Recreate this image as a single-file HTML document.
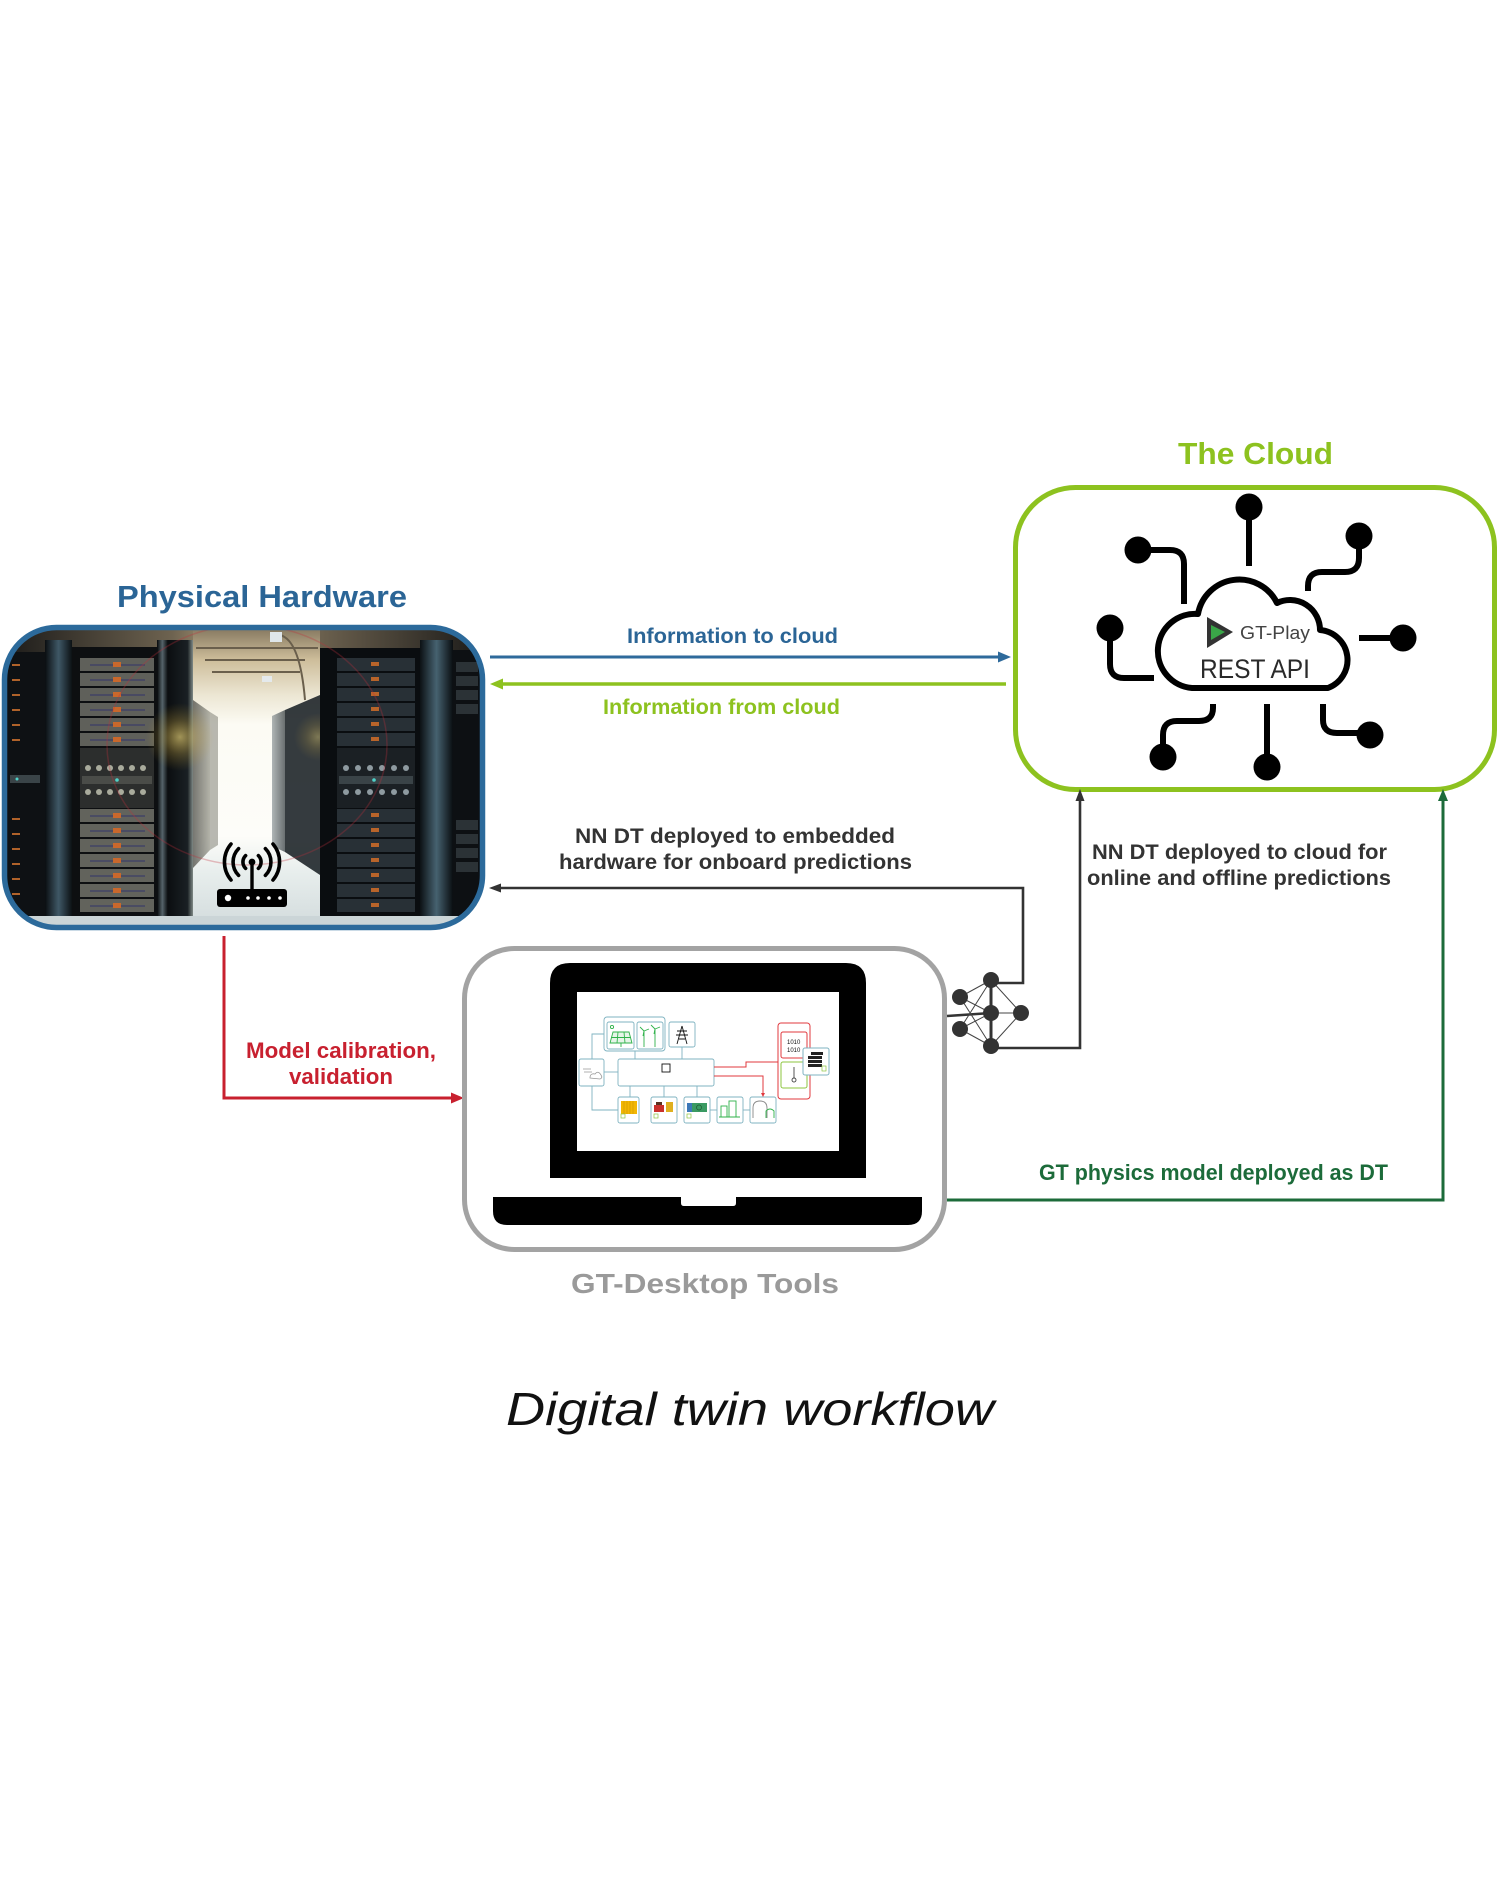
<!DOCTYPE html>
<html>
<head>
<meta charset="utf-8">
<style>
html,body{margin:0;padding:0;background:#ffffff;}
svg{display:block;}
text{font-family:"Liberation Sans",Arial,sans-serif;}
</style>
</head>
<body>
<svg width="1500" height="1900" viewBox="0 0 1500 1900" xmlns="http://www.w3.org/2000/svg">
<defs>
  <clipPath id="pc"><rect x="7" y="630" width="473" height="295" rx="48" ry="48"/></clipPath>
  <linearGradient id="ceil" x1="0" y1="0" x2="1" y2="0">
    <stop offset="0" stop-color="#1d1c1a"/>
    <stop offset="0.35" stop-color="#6e6350"/>
    <stop offset="0.5" stop-color="#c3ad85"/>
    <stop offset="0.65" stop-color="#6e6350"/>
    <stop offset="1" stop-color="#1d1c1a"/>
  </linearGradient>
  <linearGradient id="steelL" x1="0" y1="0" x2="1" y2="0">
    <stop offset="0" stop-color="#0a0e11"/>
    <stop offset="0.5" stop-color="#3f5866"/>
    <stop offset="1" stop-color="#0c1114"/>
  </linearGradient>
  <linearGradient id="steelR" x1="0" y1="0" x2="1" y2="0">
    <stop offset="0" stop-color="#0c1114"/>
    <stop offset="0.5" stop-color="#466270"/>
    <stop offset="1" stop-color="#0a0e11"/>
  </linearGradient>
  <linearGradient id="door" x1="0" y1="0" x2="1" y2="0">
    <stop offset="0" stop-color="#06080a"/>
    <stop offset="0.15" stop-color="#55646a"/>
    <stop offset="0.3" stop-color="#0b0e10"/>
    <stop offset="0.85" stop-color="#1a2024"/>
    <stop offset="1" stop-color="#7f8a86"/>
  </linearGradient>
  <linearGradient id="corr" x1="0" y1="0" x2="0" y2="1">
    <stop offset="0" stop-color="#8a7c63"/>
    <stop offset="0.1" stop-color="#cdbd9a"/>
    <stop offset="0.22" stop-color="#ece6d3"/>
    <stop offset="0.32" stop-color="#fcfbf4"/>
    <stop offset="0.7" stop-color="#fdfdf9"/>
    <stop offset="0.82" stop-color="#e8eeed"/>
    <stop offset="1" stop-color="#d3dcdd"/>
  </linearGradient>
  <linearGradient id="sideL" x1="0" y1="0" x2="1" y2="0">
    <stop offset="0" stop-color="#4a4a44"/>
    <stop offset="1" stop-color="#9a9a8e"/>
  </linearGradient>
  <linearGradient id="sideR" x1="0" y1="0" x2="1" y2="0">
    <stop offset="0" stop-color="#8e979a"/>
    <stop offset="1" stop-color="#2c3438"/>
  </linearGradient>
  <radialGradient id="glow" cx="0.5" cy="0.5" r="0.5">
    <stop offset="0" stop-color="#ffe680" stop-opacity="0.6"/>
    <stop offset="0.5" stop-color="#e8c04a" stop-opacity="0.25"/>
    <stop offset="1" stop-color="#c8a030" stop-opacity="0"/>
  </radialGradient>
</defs>

<!-- ============ PHYSICAL HARDWARE ============ -->
<text x="117" y="607" font-size="31" font-weight="bold" fill="#2B6596" textLength="290" lengthAdjust="spacingAndGlyphs">Physical Hardware</text>

<g clip-path="url(#pc)">
  <rect x="0" y="620" width="490" height="310" fill="#14181c"/>
  <rect x="7" y="630" width="473" height="24" fill="url(#ceil)"/>
  <!-- left partial rack -->
  <rect x="7" y="652" width="38" height="268" fill="#0e1114"/>
  <g fill="#b0622a">
    <rect x="12" y="664" width="8" height="2"/><rect x="12" y="679" width="8" height="2"/>
    <rect x="12" y="694" width="8" height="2"/><rect x="12" y="709" width="8" height="2"/>
    <rect x="12" y="724" width="8" height="2"/><rect x="12" y="739" width="8" height="2"/>
    <rect x="12" y="818" width="8" height="2"/><rect x="12" y="833" width="8" height="2"/>
    <rect x="12" y="848" width="8" height="2"/><rect x="12" y="863" width="8" height="2"/>
    <rect x="12" y="878" width="8" height="2"/><rect x="12" y="893" width="8" height="2"/>
  </g>
  <rect x="10" y="775" width="30" height="8" fill="#3a4448"/>
  <circle cx="17" cy="779" r="1.5" fill="#4fd1c8"/>
  <!-- left column -->
  <rect x="45" y="640" width="27" height="285" fill="url(#steelL)"/>
  <!-- left rack -->
  <rect x="72" y="647" width="85" height="273" fill="#0d0f11"/>
  <g>
    <rect x="80" y="658" width="74" height="13" fill="#5f605a"/>
    <rect x="80" y="673" width="74" height="13" fill="#5f605a"/>
    <rect x="80" y="688" width="74" height="13" fill="#5f605a"/>
    <rect x="80" y="703" width="74" height="13" fill="#5f605a"/>
    <rect x="80" y="718" width="74" height="13" fill="#5f605a"/>
    <rect x="80" y="733" width="74" height="13" fill="#5f605a"/>
    <rect x="80" y="748" width="74" height="60" fill="#2c2e2d"/>
    <rect x="80" y="809" width="74" height="13" fill="#62635c"/>
    <rect x="80" y="824" width="74" height="13" fill="#62635c"/>
    <rect x="80" y="839" width="74" height="13" fill="#62635c"/>
    <rect x="80" y="854" width="74" height="13" fill="#62635c"/>
    <rect x="80" y="869" width="74" height="13" fill="#62635c"/>
    <rect x="80" y="884" width="74" height="13" fill="#62635c"/>
    <rect x="80" y="899" width="74" height="13" fill="#62635c"/>
  </g>
  <g stroke="#33346a" stroke-width="1">
    <line x1="90" y1="665" x2="145" y2="665"/><line x1="90" y1="680" x2="145" y2="680"/>
    <line x1="90" y1="695" x2="145" y2="695"/><line x1="90" y1="710" x2="145" y2="710"/>
    <line x1="90" y1="725" x2="145" y2="725"/><line x1="90" y1="740" x2="145" y2="740"/>
    <line x1="90" y1="816" x2="145" y2="816"/><line x1="90" y1="831" x2="145" y2="831"/>
    <line x1="90" y1="846" x2="145" y2="846"/><line x1="90" y1="861" x2="145" y2="861"/>
    <line x1="90" y1="876" x2="145" y2="876"/><line x1="90" y1="891" x2="145" y2="891"/>
    <line x1="90" y1="906" x2="145" y2="906"/>
  </g>
  <g fill="#c8682c">
    <rect x="113" y="662" width="8" height="5"/>
    <rect x="113" y="677" width="8" height="5"/><rect x="113" y="692" width="8" height="5"/>
    <rect x="113" y="707" width="8" height="5"/><rect x="113" y="722" width="8" height="5"/>
    <rect x="113" y="737" width="8" height="5"/><rect x="113" y="813" width="8" height="5"/>
    <rect x="113" y="828" width="8" height="5"/><rect x="113" y="843" width="8" height="5"/>
    <rect x="113" y="858" width="8" height="5"/><rect x="113" y="873" width="8" height="5"/>
    <rect x="113" y="888" width="8" height="5"/><rect x="113" y="903" width="8" height="5"/>
  </g>
  <g fill="#a9ab9c">
    <circle cx="88" cy="768" r="3"/><circle cx="99" cy="768" r="3"/><circle cx="110" cy="768" r="3"/>
    <circle cx="121" cy="768" r="3"/><circle cx="132" cy="768" r="3"/><circle cx="143" cy="768" r="3"/>
    <circle cx="88" cy="792" r="3"/><circle cx="99" cy="792" r="3"/><circle cx="110" cy="792" r="3"/>
    <circle cx="121" cy="792" r="3"/><circle cx="132" cy="792" r="3"/><circle cx="143" cy="792" r="3"/>
  </g>
  <rect x="82" y="776" width="70" height="8" fill="#4a4c48"/>
  <circle cx="117" cy="780" r="1.8" fill="#4fd1c8"/>
  <!-- door -->
  <rect x="157" y="640" width="36" height="282" fill="url(#door)"/>
  <!-- corridor -->
  <rect x="193" y="630" width="127" height="295" fill="url(#corr)"/>
  <polygon points="193,700 210,712 210,850 193,868" fill="url(#sideL)" opacity="0.75"/>
  <polygon points="320,695 285,710 285,852 320,875" fill="#1f262a" opacity="0.9"/>
  <polygon points="285,710 272,716 272,846 285,852" fill="url(#sideR)" opacity="0.7"/>
  <polygon points="210,712 218,717 218,845 210,850" fill="#8a8a80" opacity="0.6"/>
  <g stroke="#6a5f4c" stroke-width="2" fill="none">
    <line x1="196" y1="648" x2="318" y2="648"/>
    <line x1="205" y1="660" x2="305" y2="660"/>
    <line x1="212" y1="672" x2="300" y2="672"/>
    <path d="M280,635 Q300,640 305,700"/>
  </g>
  <rect x="270" y="632" width="12" height="10" fill="#dfe6ea"/>
  <rect x="262" y="676" width="10" height="6" fill="#e4e9ec"/>
  <circle cx="180" cy="737" r="34" fill="url(#glow)"/>
  <circle cx="318" cy="737" r="24" fill="url(#glow)" opacity="0.6"/>
  <!-- right rack -->
  <rect x="320" y="648" width="100" height="272" fill="#0a0d10"/>
  <g fill="#283036">
    <rect x="337" y="658" width="78" height="13"/><rect x="337" y="673" width="78" height="13"/>
    <rect x="337" y="688" width="78" height="13"/><rect x="337" y="703" width="78" height="13"/>
    <rect x="337" y="718" width="78" height="13"/><rect x="337" y="733" width="78" height="13"/>
    <rect x="337" y="809" width="78" height="13"/><rect x="337" y="824" width="78" height="13"/>
    <rect x="337" y="839" width="78" height="13"/><rect x="337" y="854" width="78" height="13"/>
    <rect x="337" y="869" width="78" height="13"/><rect x="337" y="884" width="78" height="13"/>
    <rect x="337" y="899" width="78" height="13"/>
  </g>
  <rect x="337" y="748" width="78" height="60" fill="#1b2024"/>
  <g fill="#8e9aa0">
    <circle cx="346" cy="768" r="3"/><circle cx="358" cy="768" r="3"/><circle cx="370" cy="768" r="3"/>
    <circle cx="382" cy="768" r="3"/><circle cx="394" cy="768" r="3"/><circle cx="406" cy="768" r="3"/>
    <circle cx="346" cy="792" r="3"/><circle cx="358" cy="792" r="3"/><circle cx="370" cy="792" r="3"/>
    <circle cx="382" cy="792" r="3"/><circle cx="394" cy="792" r="3"/><circle cx="406" cy="792" r="3"/>
  </g>
  <rect x="339" y="776" width="74" height="8" fill="#3a4347"/>
  <circle cx="374" cy="780" r="1.8" fill="#4fd1c8"/>
  <g fill="#b8642a">
    <rect x="371" y="662" width="8" height="4"/><rect x="371" y="677" width="8" height="4"/>
    <rect x="371" y="692" width="8" height="4"/><rect x="371" y="707" width="8" height="4"/>
    <rect x="371" y="722" width="8" height="4"/><rect x="371" y="737" width="8" height="4"/>
    <rect x="371" y="813" width="8" height="4"/><rect x="371" y="828" width="8" height="4"/>
    <rect x="371" y="843" width="8" height="4"/><rect x="371" y="858" width="8" height="4"/>
    <rect x="371" y="873" width="8" height="4"/><rect x="371" y="888" width="8" height="4"/>
    <rect x="371" y="903" width="8" height="4"/>
  </g>
  <!-- right column & partial -->
  <rect x="420" y="640" width="33" height="285" fill="url(#steelR)"/>
  <rect x="453" y="650" width="27" height="270" fill="#0d1013"/>
  <g fill="#2b3236">
    <rect x="456" y="662" width="22" height="10"/><rect x="456" y="676" width="22" height="10"/>
    <rect x="456" y="690" width="22" height="10"/><rect x="456" y="704" width="22" height="10"/>
    <rect x="456" y="820" width="22" height="10"/><rect x="456" y="834" width="22" height="10"/>
    <rect x="456" y="848" width="22" height="10"/><rect x="456" y="862" width="22" height="10"/>
  </g>
  <rect x="7" y="916" width="473" height="10" fill="#cbd5d7"/>
  <ellipse cx="247" cy="745" rx="140" ry="120" fill="none" stroke="#c0303a" stroke-opacity="0.3" stroke-width="1.5"/>
  <!-- router icon -->
  <g fill="none" stroke="#000" stroke-width="3.6" stroke-linecap="round">
    <path d="M245.6,855.6 A9,9 0 0 0 245.6,868.4"/>
    <path d="M258.4,855.6 A9,9 0 0 1 258.4,868.4"/>
    <path d="M238.6,848.6 A19,19 0 0 0 238.6,875.4"/>
    <path d="M265.4,848.6 A19,19 0 0 1 265.4,875.4"/>
    <path d="M231,844 A28,28 0 0 0 231,880"/>
    <path d="M273,844 A28,28 0 0 1 273,880"/>
  </g>
  <line x1="252" y1="862" x2="252" y2="890" stroke="#000" stroke-width="3.4"/>
  <circle cx="252" cy="862" r="3.4" fill="#000"/>
  <rect x="217" y="889" width="70" height="18" rx="3" fill="#000"/>
  <circle cx="228" cy="898" r="3.2" fill="#fff"/>
  <circle cx="248" cy="898" r="1.8" fill="#fff"/>
  <circle cx="258" cy="898" r="1.8" fill="#fff"/>
  <circle cx="269" cy="898" r="1.8" fill="#fff"/>
  <circle cx="280" cy="898" r="1.8" fill="#fff"/>
</g>
<rect x="4.5" y="627.5" width="478" height="300" rx="52" ry="52" fill="none" stroke="#2C6A9B" stroke-width="5.5"/>

<!-- ============ THE CLOUD ============ -->
<text x="1178" y="464" font-size="31" font-weight="bold" fill="#8DC21F" textLength="155" lengthAdjust="spacingAndGlyphs">The Cloud</text>
<rect x="1015.5" y="487.5" width="479" height="302" rx="60" ry="60" fill="#fff" stroke="#8DC21F" stroke-width="5"/>

<g fill="none" stroke="#000" stroke-width="6">
  <line x1="1249" y1="507" x2="1249" y2="566"/>
  <path d="M1138,550 L1170,550 Q1184,550 1184,564 L1184,604"/>
  <path d="M1359,536 L1359,558 Q1359,572 1345,572 L1322,572 Q1308,572 1308,586 L1308,591"/>
  <path d="M1110,628 L1110,664 Q1110,678 1124,678 L1154,678"/>
  <line x1="1359" y1="638" x2="1403" y2="638"/>
  <path d="M1213,704 L1213,708 Q1213,721 1199,721 L1177,721 Q1163,721 1163,735 L1163,757"/>
  <line x1="1267" y1="704" x2="1267" y2="767"/>
  <path d="M1323,704 L1323,720 Q1323,733 1337,733 L1370,733"/>
</g>
<g fill="#000">
  <circle cx="1249" cy="507" r="13.5"/>
  <circle cx="1138" cy="550" r="13.5"/>
  <circle cx="1359" cy="536" r="13.5"/>
  <circle cx="1110" cy="628" r="13.5"/>
  <circle cx="1403" cy="638" r="13.5"/>
  <circle cx="1163" cy="757" r="13.5"/>
  <circle cx="1267" cy="767" r="13.5"/>
  <circle cx="1370" cy="735" r="13.5"/>
</g>
<path d="M1192,688 A37,37 0 0 1 1198,614 A42,42 0 0 1 1277,603 A30,30 0 0 1 1320,630 A30,30 0 0 1 1328,688 Z" fill="#fff" stroke="#000" stroke-width="6" stroke-linejoin="round"/>
<polygon points="1207,617 1233,632 1207,648" fill="#333"/>
<polygon points="1211,625 1225,632 1211,640" fill="#3aa648"/>
<text x="1240" y="639" font-size="18" fill="#444" textLength="70" lengthAdjust="spacingAndGlyphs">GT-Play</text>
<text x="1200" y="678" font-size="27" fill="#2a2a2a" textLength="110" lengthAdjust="spacingAndGlyphs">REST API</text>

<!-- ============ ARROWS: hardware <-> cloud ============ -->
<text x="627" y="643" font-size="21" font-weight="bold" fill="#2B6596" textLength="211" lengthAdjust="spacingAndGlyphs">Information to cloud</text>
<line x1="490" y1="657" x2="1000" y2="657" stroke="#2E6A9B" stroke-width="3"/>
<polygon points="1011,657 998,651.5 998,662.5" fill="#2E6A9B"/>

<line x1="1006" y1="684" x2="500" y2="684" stroke="#8DC21F" stroke-width="3.5"/>
<polygon points="490,684 503,678.5 503,689.5" fill="#8DC21F"/>
<text x="603" y="714" font-size="21" font-weight="bold" fill="#8DC21F" textLength="237" lengthAdjust="spacingAndGlyphs">Information from cloud</text>

<!-- NN DT embedded -->
<text x="575" y="843" font-size="21" font-weight="bold" fill="#333" textLength="320" lengthAdjust="spacingAndGlyphs">NN DT deployed to embedded</text>
<text x="559" y="869" font-size="21" font-weight="bold" fill="#333" textLength="353" lengthAdjust="spacingAndGlyphs">hardware for onboard predictions</text>
<polyline points="991,983 1023,983 1023,888 498,888" fill="none" stroke="#333" stroke-width="2.6"/>
<polygon points="489,888 501,883.5 501,892.5" fill="#333"/>

<!-- NN DT cloud -->
<text x="1092" y="859" font-size="21" font-weight="bold" fill="#333" textLength="295" lengthAdjust="spacingAndGlyphs">NN DT deployed to cloud for</text>
<text x="1087" y="885" font-size="21" font-weight="bold" fill="#333" textLength="304" lengthAdjust="spacingAndGlyphs">online and offline predictions</text>
<polyline points="991,1048 1080,1048 1080,798" fill="none" stroke="#333" stroke-width="2.6"/>
<polygon points="1080,789 1075.5,801 1084.5,801" fill="#333"/>

<!-- GT physics model -->
<polyline points="947,1200 1443,1200 1443,798" fill="none" stroke="#1C6B3A" stroke-width="3"/>
<polygon points="1443,789 1438,801 1448,801" fill="#1C6B3A"/>
<text x="1039" y="1180" font-size="22" font-weight="bold" fill="#1C6B3A" textLength="349" lengthAdjust="spacingAndGlyphs">GT physics model deployed as DT</text>

<!-- Model calibration -->
<polyline points="224,936 224,1098 453,1098" fill="none" stroke="#C8202F" stroke-width="3"/>
<polygon points="464,1098 451,1092.5 451,1103.5" fill="#C8202F"/>
<text x="246" y="1058" font-size="22" font-weight="bold" fill="#C8202F" textLength="190" lengthAdjust="spacingAndGlyphs">Model calibration,</text>
<text x="289" y="1084" font-size="22" font-weight="bold" fill="#C8202F" textLength="104" lengthAdjust="spacingAndGlyphs">validation</text>

<!-- ============ LAPTOP ============ -->
<rect x="464.5" y="948.5" width="480" height="301" rx="50" ry="50" fill="#fff" stroke="#A3A3A3" stroke-width="5"/>
<path d="M550,1178 L550,983 Q550,963 570,963 L846,963 Q866,963 866,983 L866,1178 Z" fill="#000"/>
<rect x="577" y="992" width="262" height="159" fill="#fff"/>
<path d="M493,1197 L922,1197 L922,1211 Q922,1225 908,1225 L507,1225 Q493,1225 493,1211 Z" fill="#000"/>
<path d="M681,1197 L736,1197 L736,1203 Q736,1206 733,1206 L684,1206 Q681,1206 681,1203 Z" fill="#fff"/>

<!-- screen diagram -->
<g fill="none" stroke="#7fb3c1" stroke-width="0.9">
  <rect x="604" y="1017" width="61" height="34" rx="3"/>
  <rect x="607" y="1022" width="27" height="27" rx="2"/>
  <rect x="637" y="1022" width="26" height="27" rx="2"/>
  <rect x="669" y="1022" width="26" height="25" rx="2"/>
  <rect x="579" y="1059" width="25" height="27" rx="2"/>
  <rect x="618" y="1059" width="96" height="27" rx="2"/>
  <rect x="618" y="1097" width="21" height="26" rx="2"/>
  <rect x="651" y="1097" width="26" height="26" rx="2"/>
  <rect x="684" y="1097" width="26" height="26" rx="2"/>
  <rect x="717" y="1097" width="26" height="26" rx="2"/>
  <rect x="750" y="1097" width="26" height="26" rx="2"/>
  <polyline points="604,1034 592,1034 592,1059"/>
  <line x1="604" y1="1072" x2="618" y2="1072"/>
  <polyline points="592,1086 592,1110 618,1110"/>
  <line x1="635" y1="1051" x2="635" y2="1059"/>
  <line x1="682" y1="1047" x2="682" y2="1059"/>
  <line x1="630" y1="1086" x2="630" y2="1097"/>
  <line x1="664" y1="1086" x2="664" y2="1097"/>
  <line x1="697" y1="1086" x2="697" y2="1097"/>
  <line x1="710" y1="1110" x2="717" y2="1110"/>
  <line x1="743" y1="1110" x2="750" y2="1110"/>
</g>
<g fill="none" stroke="#e0383e" stroke-width="1">
  <rect x="778" y="1023" width="32" height="76" rx="3"/>
  <rect x="781" y="1032" width="26" height="26" rx="2"/>
  <polyline points="714,1067 746,1067 746,1062 778,1062"/>
  <polyline points="714,1076 763,1076 763,1095"/>
</g>
<polygon points="763,1097 761,1093 765,1093" fill="#e0383e"/>
<rect x="781" y="1062" width="26" height="26" rx="2" fill="none" stroke="#8DC63F" stroke-width="1"/>
<rect x="803" y="1048" width="26" height="27" rx="2" fill="#fff" stroke="#7fb3c1" stroke-width="1"/>
<!-- icons -->
<g fill="none" stroke="#2fb24a" stroke-width="0.9">
  <polygon points="613,1032 629,1032 632,1043 610,1043" fill="#e6f5e8"/>
  <line x1="611" y1="1037.5" x2="631" y2="1037.5"/>
  <line x1="618" y1="1032" x2="617" y2="1043"/><line x1="624" y1="1032" x2="625" y2="1043"/>
  <line x1="621" y1="1043" x2="621" y2="1047"/>
  <circle cx="612" cy="1027" r="1.6"/>
  <line x1="644" y1="1047" x2="644" y2="1031"/><line x1="644" y1="1031" x2="640" y2="1027"/><line x1="644" y1="1031" x2="649" y2="1029"/><line x1="644" y1="1031" x2="643" y2="1036"/>
  <line x1="655" y1="1047" x2="655" y2="1029"/><line x1="655" y1="1029" x2="651" y2="1025"/><line x1="655" y1="1029" x2="660" y2="1027"/><line x1="655" y1="1029" x2="654" y2="1034"/>
</g>
<g fill="none" stroke="#111" stroke-width="0.9">
  <path d="M682,1026 L677,1044 M682,1026 L687,1044 M677,1031 L687,1031 M676,1035 L688,1035 M679,1039 L685,1039"/>
  <rect x="662" y="1064" width="8" height="8"/>
</g>
<g fill="none" stroke="#999" stroke-width="0.8">
  <path d="M583,1069 L591,1069 M584,1072 L592,1072"/>
  <path d="M590,1078 Q590,1073 595,1074 Q598,1070 601,1075 Q603,1078 600,1079 Z"/>
</g>
<rect x="621" y="1101" width="16" height="13" fill="#f2b705"/>
<g stroke="#c58f00" stroke-width="0.5"><line x1="624" y1="1101" x2="624" y2="1114"/><line x1="627" y1="1101" x2="627" y2="1114"/><line x1="630" y1="1101" x2="630" y2="1114"/><line x1="633" y1="1101" x2="633" y2="1114"/></g>
<rect x="621" y="1114" width="4" height="4" fill="none" stroke="#8DC63F" stroke-width="0.7"/>
<rect x="654" y="1105" width="10" height="7" fill="#c9302c"/>
<rect x="656" y="1102" width="6" height="3" fill="#5a3020"/>
<rect x="666" y="1102" width="7" height="10" fill="#e0b020"/>
<rect x="654" y="1114" width="4" height="4" fill="none" stroke="#8DC63F" stroke-width="0.7"/>
<rect x="687" y="1103" width="20" height="9" fill="#3a9a62"/>
<rect x="687" y="1103" width="5" height="9" fill="#3c78b8"/>
<circle cx="699" cy="1107.5" r="2.5" fill="none" stroke="#1c5a30" stroke-width="0.7"/>
<rect x="687" y="1114" width="4" height="4" fill="none" stroke="#8DC63F" stroke-width="0.7"/>
<g fill="none" stroke="#2fb24a" stroke-width="0.9">
  <rect x="721" y="1106" width="6" height="11"/>
  <rect x="729" y="1101" width="7" height="16"/>
  <line x1="719" y1="1117" x2="740" y2="1117"/>
</g>
<g fill="none" stroke="#888" stroke-width="0.9">
  <path d="M753,1118 L753,1108 Q753,1101 760,1101 Q767,1101 767,1108 L767,1118"/>
  <path d="M766,1118 L766,1111 Q770,1107 774,1111 L774,1118" stroke="#2fb24a"/>
</g>
<text x="787" y="1044" font-size="6" fill="#111" font-family="Liberation Mono, monospace">1010</text>
<text x="787" y="1052" font-size="6" fill="#111" font-family="Liberation Mono, monospace">1010</text>
<g fill="none" stroke="#444" stroke-width="0.9">
  <line x1="794" y1="1067" x2="794" y2="1078"/>
  <circle cx="794" cy="1080" r="2"/>
</g>
<g fill="#222">
  <rect x="808" y="1056" width="14" height="3"/>
  <rect x="808" y="1060" width="14" height="3"/>
  <rect x="808" y="1064" width="14" height="3"/>
  <rect x="811" y="1052" width="12" height="3"/>
</g>
<rect x="822" y="1066" width="4" height="5" fill="none" stroke="#8DC63F" stroke-width="0.7"/>

<!-- ============ Neural net icon ============ -->
<line x1="947" y1="1016" x2="991" y2="1013" stroke="#333" stroke-width="2.6"/>
<g stroke="#444" stroke-width="1">
  <line x1="960" y1="997" x2="991" y2="980"/><line x1="960" y1="997" x2="991" y2="1013"/><line x1="960" y1="997" x2="991" y2="1046"/>
  <line x1="960" y1="1029" x2="991" y2="980"/><line x1="960" y1="1029" x2="991" y2="1013"/><line x1="960" y1="1029" x2="991" y2="1046"/>
  <line x1="991" y1="980" x2="1021" y2="1013"/><line x1="991" y1="1013" x2="1021" y2="1013"/><line x1="991" y1="1046" x2="1021" y2="1013"/>
</g>
<line x1="991" y1="980" x2="991" y2="1046" stroke="#333" stroke-width="3"/>
<g fill="#333">
  <circle cx="960" cy="997" r="8"/><circle cx="960" cy="1029" r="8"/>
  <circle cx="991" cy="980" r="8"/><circle cx="991" cy="1013" r="8"/><circle cx="991" cy="1046" r="8"/>
  <circle cx="1021" cy="1013" r="8"/>
</g>

<!-- ============ Bottom labels ============ -->
<text x="571" y="1293" font-size="28" font-weight="bold" fill="#9A9A9A" textLength="268" lengthAdjust="spacingAndGlyphs">GT-Desktop Tools</text>
<text x="506" y="1425" font-size="46" font-style="italic" fill="#111" textLength="488" lengthAdjust="spacingAndGlyphs">Digital twin workflow</text>
</svg>
</body>
</html>
